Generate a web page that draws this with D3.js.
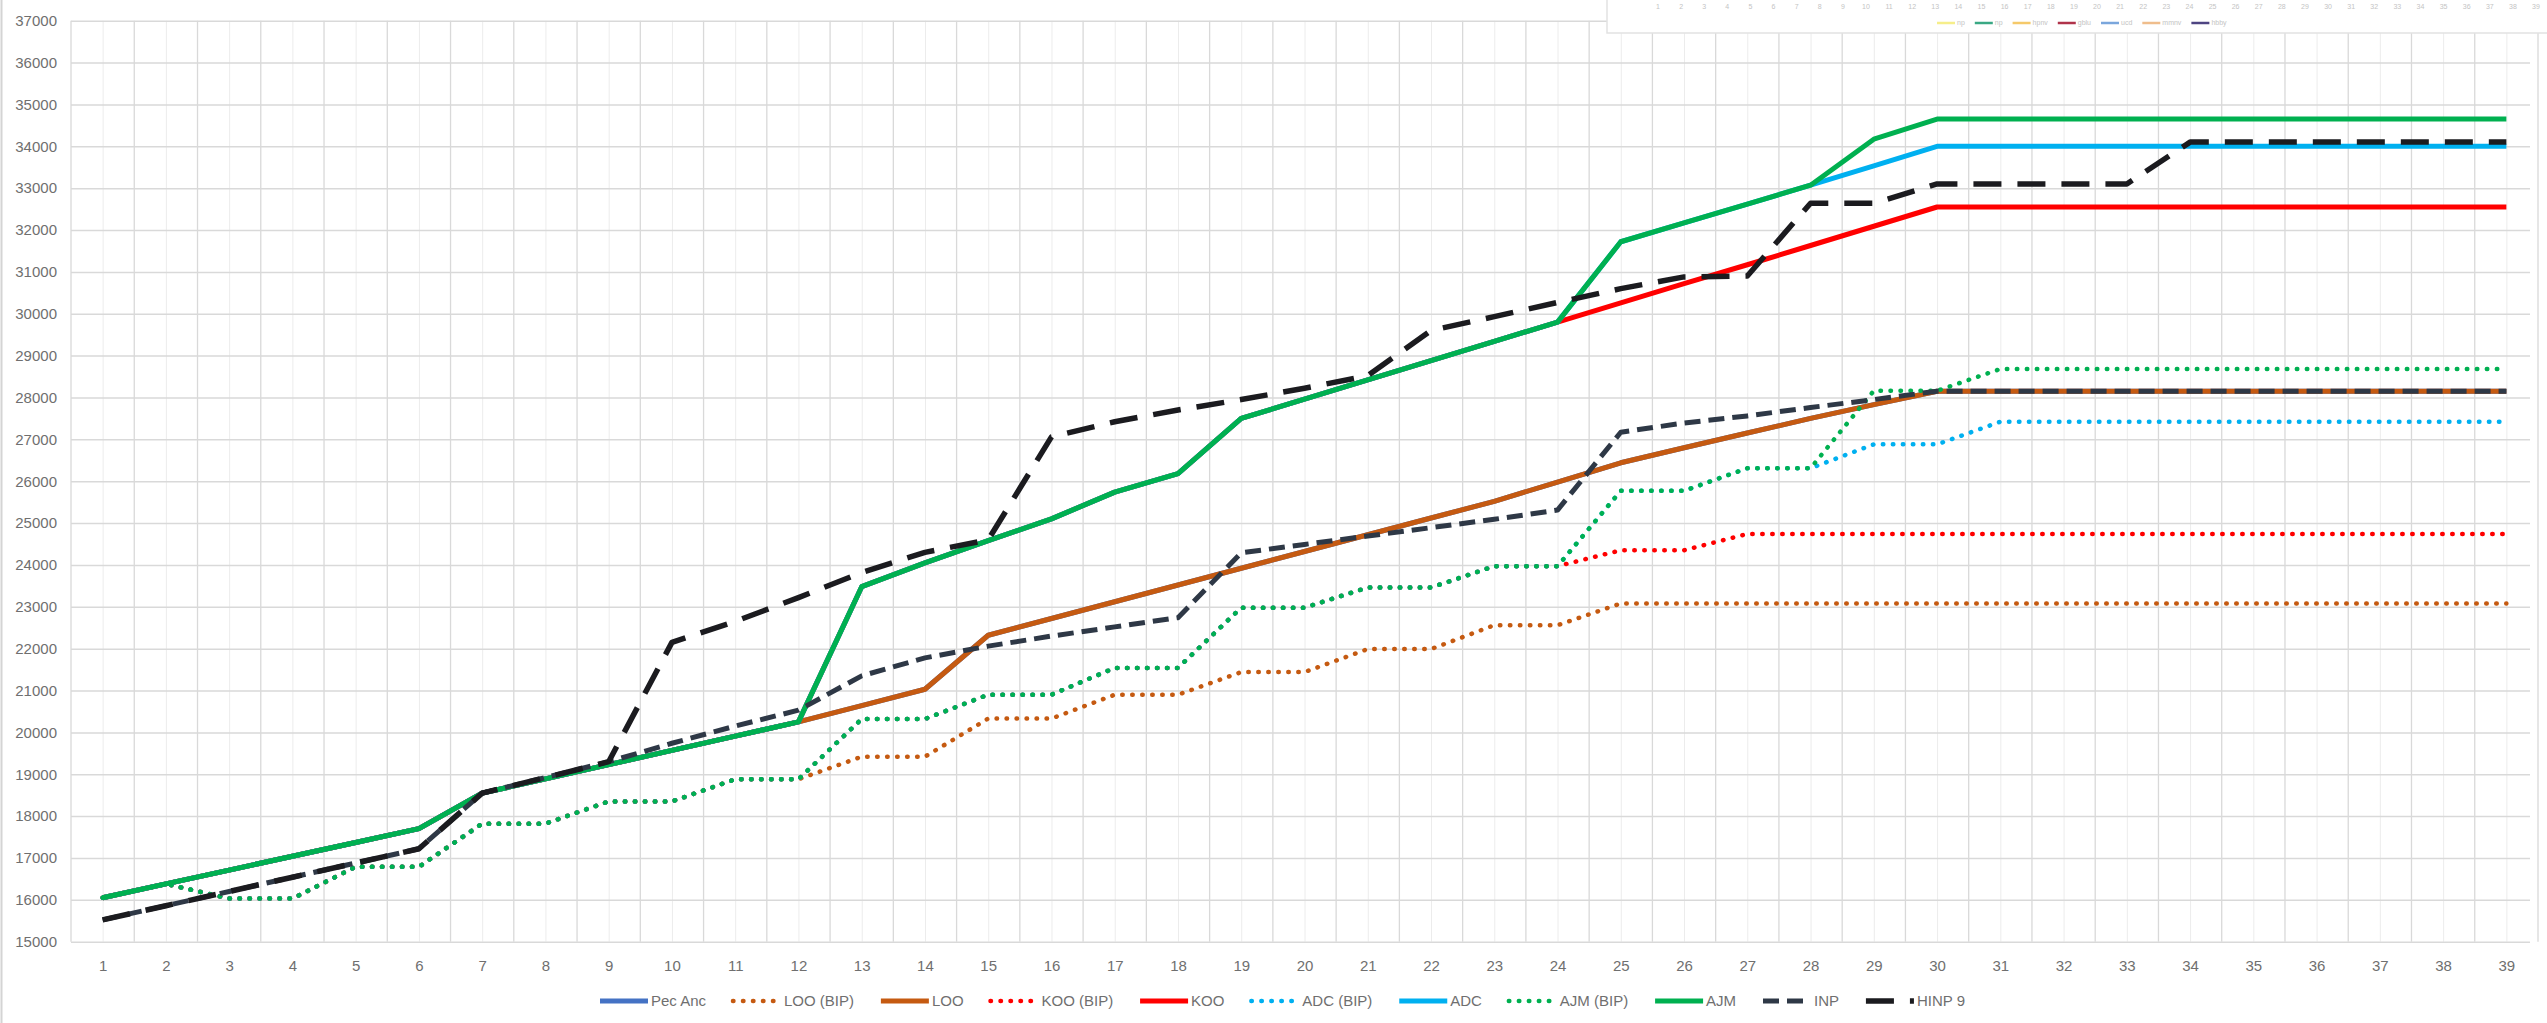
<!DOCTYPE html>
<html lang="en">
<meta charset="utf-8">
<script src="https://cdn.jsdelivr.net/npm/d3@7"></script>
<style>
  body { margin: 0; background: #fff; }
  svg { display: block; font-family: "Liberation Sans", Arial, sans-serif; }
  .tick text { fill: #6f6f6f; font-size: 15px; }
  .legend text { fill: #6f6f6f; font-size: 15px; }
</style>
<body>
<svg id="chart" width="2547" height="1023"></svg>
<script>
// categories on the x axis
const categories = [1,2,3,4,5,6,7,8,9,10,11,12,13,14,15,16,17,18,19,20,21,22,23,24,25,26,27,28,29,30,31,32,33,34,35,36,37,38,39];
const yTicks = [15000,16000,17000,18000,19000,20000,21000,22000,23000,24000,25000,26000,27000,28000,29000,30000,31000,32000,33000,34000,35000,36000,37000];
const seriesNames = ["Pec Anc","LOO (BIP)","LOO","KOO (BIP)","KOO","ADC (BIP)","ADC","AJM (BIP)","AJM","INP","HINP 9"];

// values
const pecAnc = [16050,16380,16710,17040,17370,17700,18550,18890,19230,19570,19910,20250,20640,21030,22320,22720,23120,23520,23920,24320,24720,25120,25520,25980,26440,26800,27150,27500,27830,28150,28150,28150,28150,28150,28150,28150,28150,28150,28150];
const looBip = [16050,16380,16030,16030,16790,16790,17820,17820,18350,18350,18880,18880,19420,19420,20330,20330,20900,20900,21440,21440,21990,21990,22560,22560,23080,23080,23080,23080,23080,23080,23080,23080,23080,23080,23080,23080,23080,23080,23080];
const loo = [16050,16380,16710,17040,17370,17700,18550,18890,19230,19570,19910,20250,20640,21030,22320,22720,23120,23520,23920,24320,24720,25120,25520,25980,26440,26800,27150,27500,27830,28150,28150,28150,28150,28150,28150,28150,28150,28150,28150];
const kooBip = [16050,16380,16030,16030,16790,16790,17820,17820,18350,18350,18880,18880,20320,20320,20900,20900,21540,21540,22980,22980,23460,23460,23970,23970,24350,24350,24740,24740,24740,24740,24740,24740,24740,24740,24740,24740,24740,24740,24740];
const koo = [16050,16380,16710,17040,17370,17700,18550,18890,19230,19570,19910,20250,23480,24050,24580,25100,25740,26180,27500,27960,28420,28880,29340,29800,30260,30720,31170,31630,32090,32550,32550,32550,32550,32550,32550,32550,32550,32550,32550];
const adcBip = [16050,16380,16030,16030,16790,16790,17820,17820,18350,18350,18880,18880,20320,20320,20900,20900,21540,21540,22980,22980,23460,23460,23970,23970,25770,25770,26310,26310,26880,26880,27420,27420,27420,27420,27420,27420,27420,27420,27420];
const adc = [16050,16380,16710,17040,17370,17700,18550,18890,19230,19570,19910,20250,23480,24050,24580,25100,25740,26180,27500,27960,28420,28880,29340,29800,31720,32170,32620,33070,33530,34000,34000,34000,34000,34000,34000,34000,34000,34000,34000];
const ajmBip = [16050,16380,16030,16030,16790,16790,17820,17820,18350,18350,18880,18880,20320,20320,20900,20900,21540,21540,22980,22980,23460,23460,23970,23970,25770,25770,26310,26310,28160,28160,28680,28680,28680,28680,28680,28680,28680,28680,28680];
const ajm = [16050,16380,16710,17040,17370,17700,18550,18890,19230,19570,19910,20250,23480,24050,24580,25100,25740,26180,27500,27960,28420,28880,29340,29800,31720,32170,32620,33070,34170,34650,34650,34650,34650,34650,34650,34650,34650,34650,34650];
const inp = [15520,15860,16200,16540,16880,17220,18550,18920,19300,19740,20150,20530,21350,21780,22060,22300,22520,22740,24290,24490,24690,24890,25090,25310,27170,27390,27560,27760,27950,28150,28150,28150,28150,28150,28150,28150,28150,28150,28150];
const hinp9 = [15520,15860,16200,16540,16880,17220,18550,18920,19300,22150,22650,23220,23820,24300,24600,27060,27420,27700,27950,28220,28520,29600,29930,30270,30600,30880,30900,32640,32640,33100,33100,33100,33100,34100,34100,34100,34100,34100,34100];

// faint legend of another chart peeking in at the top right
const ghostNames = ["np","np","hpnv","gblu","ucd","mmnv","hbby"];

const values = [pecAnc, looBip, loo, kooBip, koo, adcBip, adc, ajmBip, ajm, inp, hinp9];
const colors = ["#4472c4","#c55a11","#c55a11","#ff0000","#ff0000","#00b0f0","#00b0f0","#00b050","#00b050","#2e3846","#1b1b1f"];
const widths = [5,4.5,5,4.5,5,4.5,5,4.5,5,5,5.5];
const dashes = [null,"0.5 9.5","none","0.5 9.5","none","0.5 9.5","none","0.5 9.5","none","16 8","28 16"];
const caps = ["butt","round","butt","round","butt","round","butt","round","butt","butt","butt"];
const ghostColors = ["#f6ee8a","#3aa884","#f5c96a","#b0334a","#7aa6dc","#efbd8c","#4e4482"];

const svg = d3.select("#chart");
const W = 2547, H = 1023;
const plotL = 71, plotR = 2538, plotT = 20.7, plotB = 941.7;

const x = d3.scalePoint().domain(categories).range([plotL, plotR]).padding(0.5);
const band = d3.scaleBand().domain(categories).range([plotL, plotR]);
const y = d3.scaleLinear().domain([15000, 37000]).range([plotB, plotT]);

// outer left border
svg.append("line").attr("x1", 1.5).attr("x2", 1.5).attr("y1", 0).attr("y2", H)
  .attr("stroke", "#d4d4d4").attr("stroke-width", 2);

// minor vertical gridlines (category centres)
svg.append("g").attr("transform", "translate(0," + plotB + ")")
  .call(d3.axisBottom(x).tickSize(-(plotB - plotT)).tickFormat(""))
  .call(g => g.select(".domain").remove())
  .call(g => g.selectAll("text").remove())
  .call(g => g.selectAll("line").attr("stroke", "#ececec").attr("stroke-width", 1));

// major vertical gridlines (category boundaries)
const bounds = categories.map(c => band(c)).concat([plotR]);
svg.append("g").selectAll("line").data(bounds).join("line")
  .attr("x1", d => d).attr("x2", d => d).attr("y1", plotT).attr("y2", plotB)
  .attr("stroke", "#d9d9d9").attr("stroke-width", 1.3);

// horizontal gridlines + y labels
svg.append("g").attr("transform", "translate(" + plotL + ",0)")
  .call(d3.axisLeft(y).tickValues(yTicks).tickSize(-(plotR - plotL - 8)).tickPadding(14).tickFormat(d3.format("d")))
  .call(g => g.select(".domain").remove())
  .call(g => g.selectAll("text").attr("fill", "#6f6f6f"))
  .call(g => g.selectAll("line").attr("stroke", "#d9d9d9").attr("stroke-width", 1.5));

// x labels
svg.append("g").attr("transform", "translate(0," + plotB + ")")
  .call(d3.axisBottom(x).tickSize(0))
  .call(g => g.select(".domain").remove())
  .call(g => g.selectAll("text").attr("fill", "#6f6f6f").attr("y", 24).attr("dy", "0.35em"));

// series
const line = d3.line().x((d, i) => x(categories[i])).y(d => y(d));
const gLines = svg.append("g");
values.forEach((vals, i) => {
  gLines.append("path")
    .attr("d", line(vals))
    .attr("fill", "none")
    .attr("stroke", colors[i])
    .attr("stroke-width", widths[i])
    .attr("stroke-linejoin", "round")
    .attr("stroke-linecap", caps[i])
    .attr("stroke-dasharray", dashes[i]);
});

// legend
const legend = svg.append("g").attr("class", "legend");
const items = legend.selectAll("g").data(seriesNames).join("g");
items.append("line").attr("x1", 2).attr("x2", 50).attr("y1", 0).attr("y2", 0)
  .attr("stroke", (d, i) => colors[i]).attr("stroke-width", (d, i) => widths[i])
  .attr("stroke-linecap", (d, i) => caps[i])
  .attr("stroke-dasharray", (d, i) => dashes[i]);
items.append("text").attr("x", 53).attr("dy", "0.35em").text(d => d);
const itemW = [];
items.each(function () { itemW.push(53 + this.querySelector("text").getComputedTextLength()); });
const legStart = 598, legEnd = 1965;
const gap = (legEnd - legStart - d3.sum(itemW)) / (itemW.length - 1);
let cx = legStart;
items.attr("transform", (d, i) => { const t = "translate(" + cx + ",1001)"; cx += itemW[i] + gap; return t; });

// ghost inset top-right
const ghost = svg.append("g");
ghost.append("rect").attr("x", 1607).attr("y", -1).attr("width", 945).attr("height", 34)
  .attr("fill", "#fff").attr("stroke", "#e2e2e2").attr("stroke-width", 1.5);
const gx = d3.scalePoint().domain(categories).range([1658, 2536]);
ghost.selectAll("text.gn").data(categories).join("text").attr("class", "gn")
  .attr("x", d => gx(d)).attr("y", 9).attr("text-anchor", "middle")
  .attr("font-size", 7).attr("fill", "#c4c4c4").text(d => d);
const gItems = ghost.selectAll("g").data(ghostNames).join("g");
gItems.append("line").attr("x1", 0).attr("x2", 18).attr("y1", 0).attr("y2", 0)
  .attr("stroke", (d, i) => ghostColors[i]).attr("stroke-width", 2.5);
gItems.append("text").attr("x", 20).attr("dy", "0.35em").attr("font-size", 7).attr("fill", "#c4c4c4").text(d => d);
let gxPos = 1937;
gItems.attr("transform", function (d, i) {
  const t = "translate(" + gxPos + ",23)";
  gxPos += 22 + this.querySelector("text").getComputedTextLength() + 8;
  return t;
});
</script>
</body>
</html>
